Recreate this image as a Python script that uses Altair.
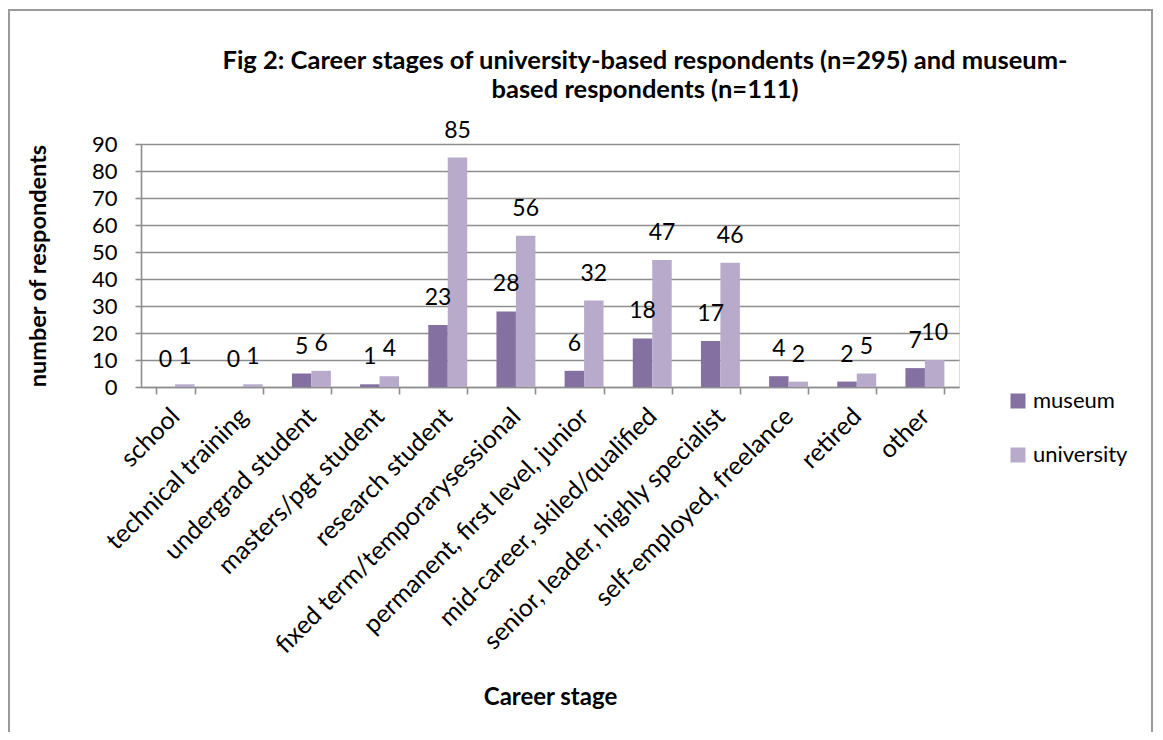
import altair as alt
import pandas as pd

categories = [
    "school", "technical training", "undergrad student", "masters/pgt student",
    "research student", "fixed term/temporarysessional", "permanent, first level, junior",
    "mid-career, skiled/qualified", "senior, leader, highly specialist",
    "self-employed, freelance", "retired", "other",
]
museum = [0, 0, 5, 1, 23, 28, 6, 18, 17, 4, 2, 7]
university = [1, 1, 6, 4, 85, 56, 32, 47, 46, 2, 5, 10]
series = ["museum", "university"]
colors = ["#8571A1", "#B8AACB"]
y_ticks = [0, 10, 20, 30, 40, 50, 60, 70, 80, 90]

rows = []
for c, m, u in zip(categories, museum, university):
    rows.append({"stage": c, "group": "museum", "count": m})
    rows.append({"stage": c, "group": "university", "count": u})
df = pd.DataFrame(rows)

FONT = "Lato"
W, H = 818, 243
GRID = "#8E8E8E"

x_enc = alt.X(
    "stage:N", sort=categories, title="Career stage",
    scale=alt.Scale(paddingInner=0.4286, paddingOuter=0.2143),
    axis=alt.Axis(
        labelAngle=-45, labelAlign="right", labelBaseline="middle",
        labelFontSize=25, labelFont=FONT, labelColor="#000000", labelPadding=18,
        tickBand="extent", tickSize=7, tickColor=GRID, tickWidth=1.6,
        domainColor=GRID, domainWidth=1.6, grid=False, labelLimit=0,
        titleFont=FONT, titleFontSize=24, titleFontWeight="bold", titleColor="#000000",
        titleY=310, titleBaseline="middle",
    ),
)
y_enc = alt.Y(
    "count:Q", title="number of respondents",
    scale=alt.Scale(domain=[0, 90], nice=False),
    axis=alt.Axis(
        values=y_ticks, tickCount=10, labelOverlap=False,
        labelFontSize=22, labelFont=FONT, labelColor="#000000",
        labelPadding=18, tickSize=6, tickColor=GRID, tickWidth=1.6,
        domainColor=GRID, domainWidth=1.6, gridColor=GRID, gridWidth=1.6,
        titleFont=FONT, titleFontSize=23.5, titleFontWeight="bold", titleColor="#000000",
        titleX=-103, titleBaseline="middle",
    ),
)
color_enc = alt.Color(
    "group:N", sort=series,
    scale=alt.Scale(domain=series, range=colors),
    legend=alt.Legend(
        title=None, orient="none", legendX=866, legendY=246,
        symbolType="square", symbolSize=225, symbolStrokeWidth=0, symbolOpacity=1,
        labelFont=FONT, labelFontSize=22, labelColor="#000000", labelOffset=4,
        rowPadding=32, padding=0,
    ),
)
xoff = alt.XOffset("group:N", sort=series, scale=alt.Scale(paddingInner=0, paddingOuter=0))

base = alt.Chart(df)
bars = base.mark_bar().encode(x=x_enc, y=y_enc, color=color_enc, xOffset=xoff)
labels = base.mark_text(font=FONT, fontSize=23, baseline="middle", dy=-27, color="#000000").encode(
    x=x_enc, xOffset=xoff, y=y_enc, text="count:Q"
)

frame_data = alt.Data(values=[{"k": 1}])
BORDER = "#9A9A9A"
left = alt.Chart(frame_data).mark_rule(color=BORDER, strokeWidth=2).encode(
    x=alt.value(-132), y=alt.value(-134), y2=alt.value(H + 360))
top = alt.Chart(frame_data).mark_rule(color=BORDER, strokeWidth=2).encode(
    x=alt.value(-133), x2=alt.value(1012), y=alt.value(-134))
right = alt.Chart(frame_data).mark_rule(color=BORDER, strokeWidth=2).encode(
    x=alt.value(1011), y=alt.value(-134), y2=alt.value(H + 360))

chart = alt.layer(bars, labels, left, top, right).properties(
    width=W, height=H,
    title=alt.TitleParams(
        text=["Fig 2: Career stages of university-based respondents (n=295) and museum-",
              "based respondents (n=111)"],
        font=FONT, fontSize=25.5, fontWeight="bold", color="#000000",
        anchor="middle", frame="group", dx=95, lineHeight=29, offset=-94,
    ),
    autosize=alt.AutoSizeParams(type="none"),
    padding={"left": 133, "top": 136, "right": 195, "bottom": 345},
).configure_view(strokeWidth=0).configure(background="#FFFFFF")

chart.save("out.html", embed_options={"renderer": "svg", "actions": False})
